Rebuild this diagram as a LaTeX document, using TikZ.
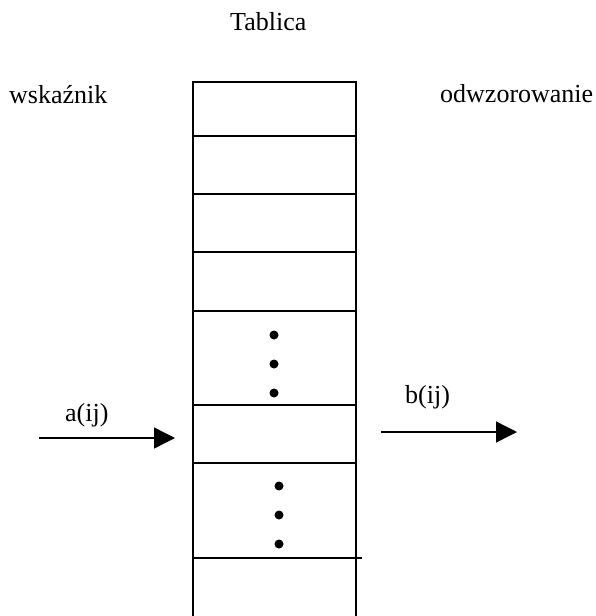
\documentclass[tikz,border=0pt]{standalone}
\usepackage{fontspec}
\setmainfont{Liberation Serif}
\usetikzlibrary{arrows.meta}
\begin{document}
\begin{tikzpicture}[x=1pt,y=-1pt,
  lbl/.style={inner sep=0pt,font=\fontsize{26}{30}\selectfont,anchor=base west},
  tline/.style={line width=1.8pt},
  arr/.style={line width=1.4pt,-{Triangle[length=21pt,width=21pt]}},
  dotm/.style={circle,fill=black,inner sep=0pt,minimum size=9pt}]
\useasboundingbox (0,0) rectangle (596,616);
% labels
\node[lbl] (tab) at (230,30) {Tablica};
\node[lbl] (wsk) at (9,103) {wskaźnik};
\node[lbl] (odw) at (440,102) {odwzorowanie};
\node[lbl] (a) at (65,421) {a(ij)};
\node[lbl] (b) at (405,403) {b(ij)};
% table
\coordinate (tl) at (193,82);
\coordinate (tr) at (356,82);
\coordinate (bl) at (193,616);
\coordinate (br) at (356,616);
\draw[tline] (bl) -- (tl) -- (tr) -- (br);
\foreach \y in {136,194,252,311,405,463}
  \draw[tline] (193,\y) -- (356,\y);
\draw[tline] (193,558) -- (362,558);
% dots
\foreach \y/\n in {335/d1,364/d2,393/d3}
  \node[dotm] (\n) at (274,\y) {};
\foreach \y/\n in {486/e1,515/e2,544/e3}
  \node[dotm] (\n) at (279,\y) {};
% arrows
\coordinate (as) at (39,438);
\coordinate (ae) at (175,438);
\coordinate (bs) at (381,432);
\coordinate (be) at (517,432);
\draw[arr] (as) -- (ae);
\draw[arr] (bs) -- (be);
\end{tikzpicture}
\end{document}
